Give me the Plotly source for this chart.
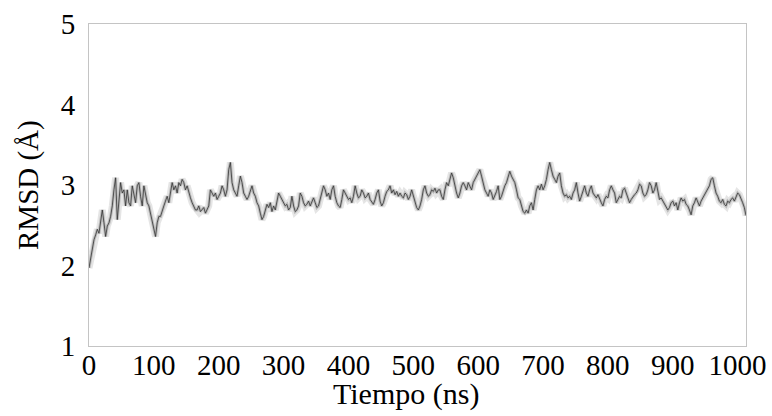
import numpy as np
import plotly.graph_objects as go

# RMSD trajectory (Å), sampled evenly over the whole run
rmsd_0_250 = [
    1.97, 2.08, 2.22, 2.32, 2.38, 2.45, 2.40, 2.57, 2.69, 2.53,
    2.36, 2.49, 2.53, 2.61, 2.74, 2.94, 3.09, 2.57, 2.82, 3.03,
    2.90, 2.94, 2.74, 2.94, 2.78, 2.74, 2.99, 2.86, 2.78, 2.99,
    3.03, 2.86, 2.74, 2.99, 2.86, 2.78, 2.74, 2.65, 2.57, 2.45,
    2.36, 2.53, 2.61, 2.61, 2.69, 2.74, 2.80, 2.86, 2.78, 2.90,
    3.03, 2.94, 2.99, 2.90, 3.03, 2.99, 3.07, 3.03, 2.94, 2.99,
    2.90, 2.84, 2.78, 2.74, 2.69, 2.69, 2.74, 2.67, 2.69, 2.72,
    2.65, 2.69, 2.74, 2.94, 2.90, 2.86, 2.90, 2.82, 2.86, 2.90,
    2.99, 2.94, 2.86, 2.94, 3.19, 3.28, 3.03, 2.94, 2.90, 2.86,
    2.99, 3.11, 3.03, 2.90, 2.86, 2.82, 2.86,
]
rmsd_250_510 = [
    2.94, 2.99, 2.90, 2.86, 2.78, 2.74, 2.65, 2.57, 2.61, 2.69,
    2.76, 2.72, 2.78, 2.67, 2.74, 2.69, 2.78, 2.90, 2.86, 2.82,
    2.78, 2.74, 2.76, 2.69, 2.72, 2.86, 2.74, 2.67, 2.69, 2.74,
    2.90, 2.86, 2.78, 2.74, 2.76, 2.80, 2.74, 2.78, 2.84, 2.78,
    2.72, 2.74, 2.82, 2.90, 2.99, 2.94, 2.86, 2.90, 2.82, 2.94,
    2.99, 2.86, 2.78, 2.74, 2.72, 2.82, 2.94, 2.90, 2.86, 2.82,
    2.84, 2.78, 2.86, 2.99, 2.90, 2.84, 2.86, 2.94, 2.90, 2.84,
    2.86, 2.90, 2.82, 2.78, 2.76, 2.82, 2.90, 2.94, 2.80, 2.74,
    2.78, 2.86, 2.92, 2.94, 2.99, 2.90, 2.94, 2.88, 2.92, 2.86,
    2.90, 2.86, 2.84, 2.90, 2.88, 2.82, 2.86, 2.94, 2.86, 2.78,
    2.72, 2.69,
]
rmsd_510_765 = [
    2.74, 2.82, 2.94, 2.99, 2.90, 2.86, 2.88, 2.94, 2.92, 2.96,
    2.90, 2.94, 2.94, 2.86, 2.82, 2.94, 3.03, 2.99, 3.07, 3.15,
    3.09, 2.99, 2.90, 2.84, 2.90, 2.99, 3.03, 2.99, 2.94, 3.03,
    2.99, 2.94, 3.03, 3.07, 3.11, 3.15, 3.19, 3.11, 3.03, 2.94,
    2.90, 2.86, 2.94, 2.90, 2.82, 2.86, 2.92, 2.99, 2.82, 2.86,
    2.94, 2.99, 3.03, 3.11, 3.17, 3.11, 3.07, 3.03, 2.94, 2.84,
    2.82, 2.74, 2.67, 2.65, 2.69, 2.65, 2.74, 2.78, 2.69, 2.82,
    2.94, 2.99, 2.94, 3.01, 2.94, 2.99, 3.07, 3.19, 3.28, 3.19,
    3.11, 3.07, 3.03, 3.11, 3.15, 2.99, 2.90, 2.86, 2.88, 2.84,
    2.86, 2.82, 2.90, 2.94, 3.03, 2.90, 2.80, 2.86, 2.94, 2.99,
    2.90, 2.86,
]
rmsd_765_1013 = [
    2.94, 2.99, 2.90, 2.86, 2.84, 2.88, 2.82, 2.78, 2.74, 2.82,
    2.86, 2.84, 2.94, 2.99, 2.94, 2.90, 2.78, 2.82, 2.86, 2.84,
    2.94, 2.96, 2.90, 2.86, 2.78, 2.82, 2.86, 2.88, 2.90, 2.94,
    3.01, 2.99, 2.90, 2.86, 2.88, 2.94, 3.03, 2.99, 2.90, 2.94,
    3.03, 2.90, 2.82, 2.84, 2.80, 2.78, 2.74, 2.69, 2.72, 2.78,
    2.80, 2.74, 2.78, 2.69, 2.78, 2.84, 2.80, 2.82, 2.76, 2.74,
    2.69, 2.63, 2.74, 2.78, 2.84, 2.78, 2.74, 2.80, 2.84, 2.88,
    2.90, 2.94, 2.99, 3.07, 3.09, 2.99, 2.90, 2.86, 2.80, 2.78,
    2.82, 2.76, 2.74, 2.80, 2.78, 2.82, 2.84, 2.80, 2.86, 2.90,
    2.88, 2.84, 2.78, 2.72, 2.62,
]
rmsd = rmsd_0_250 + rmsd_250_510 + rmsd_510_765 + rmsd_765_1013

t_start_ns, t_end_ns = 0, 1013
time_ns = np.linspace(t_start_ns, t_end_ns, len(rmsd))

x_ticks = [0, 100, 200, 300, 400, 500, 600, 700, 800, 900, 1000]
y_ticks = [1, 2, 3, 4, 5]

serif = "Liberation Serif, Times New Roman, serif"

fig = go.Figure()
# soft gray band under the trace
fig.add_trace(go.Scatter(
    x=time_ns, y=rmsd, mode="lines",
    line=dict(color="rgba(0,0,0,0.10)", width=7),
    hoverinfo="skip", showlegend=False,
))
fig.add_trace(go.Scatter(
    x=time_ns, y=rmsd, mode="lines",
    line=dict(color="rgba(0,0,0,0.18)", width=3),
    hoverinfo="skip", showlegend=False,
))
fig.add_trace(go.Scatter(
    x=time_ns, y=rmsd, mode="lines",
    line=dict(color="#333333", width=0.8),
    showlegend=False,
))

axis_common = dict(
    showline=True, mirror=True, linecolor="#c4c4c4", linewidth=1,
    showgrid=False, zeroline=False, ticks="",
    tickfont=dict(family=serif, size=29, color="#000"),
    ticklabeloverflow="allow",
    automargin=False,
)

fig.update_layout(
    width=772, height=416,
    margin=dict(l=89, r=26, t=24, b=70),
    paper_bgcolor="white", plot_bgcolor="white",
    xaxis=dict(
        range=[t_start_ns, t_end_ns], tickvals=x_ticks,
        ticktext=[str(v) for v in x_ticks],
        ticklabelstandoff=-7,
        **axis_common,
    ),
    yaxis=dict(
        range=[1, 5], tickvals=y_ticks,
        ticklabelstandoff=7,
        **axis_common,
    ),
    annotations=[
        dict(text="Tiempo (ns)", xref="paper", yref="paper",
             x=0.4825, y=0, xanchor="center", yanchor="middle", yshift=-48,
             showarrow=False, font=dict(family=serif, size=30, color="#000")),
        dict(text="RMSD (Å)", xref="paper", yref="paper",
             x=0, y=0.5, xanchor="center", yanchor="middle", xshift=-61,
             textangle=-90,
             showarrow=False, font=dict(family=serif, size=29, color="#000")),
    ],
)

fig.write_html("out.html")
